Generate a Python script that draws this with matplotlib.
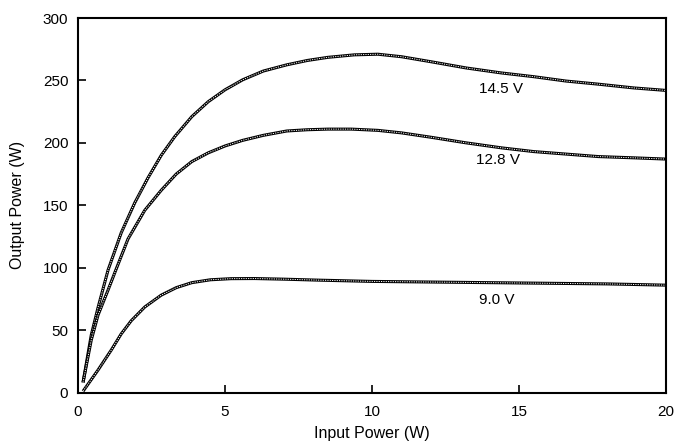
import matplotlib
matplotlib.use("Agg")
import matplotlib.pyplot as plt

plt.rcParams['font.family'] = ['Liberation Sans', 'DejaVu Sans']

x_145 = [0.17, 0.45, 0.68, 1.02, 1.47, 1.93, 2.38, 2.83, 3.29, 3.87, 4.43, 5.0, 5.6, 6.3, 7.1, 7.8, 8.5,
         9.4, 10.2, 11.0, 12.0, 13.2, 14.4, 15.5, 16.6, 17.7, 18.9, 20]
y_145 = [8, 46, 68, 98, 128, 152, 172, 190, 205, 221, 233, 242.5, 250.5, 257.5, 262.5, 266, 268.5,
         270.5, 271, 269, 265, 260, 256, 253, 249.5, 247, 244, 242]

x_128 = [0.17, 0.45, 0.68, 1.02, 1.3, 1.7, 2.27, 2.83, 3.34, 3.87, 4.43, 5.0, 5.6, 6.3, 7.1, 7.8, 8.5,
         9.3, 10.2, 11.0, 12.0, 13.2, 14.4, 15.5, 16.6, 17.7, 18.9, 20]
y_128 = [8, 42, 62, 82, 99, 123, 146, 162, 175, 185, 192, 197.5, 202, 206, 209.5, 210.5, 211,
         211, 210, 208, 204.5, 200, 196, 193, 191, 189, 188, 187]

x_90 = [0.17, 0.68, 1.13, 1.47, 1.81, 2.27, 2.83, 3.34, 3.87, 4.5, 5.2, 6.0, 7.0, 8.2, 10, 12, 14, 16, 18, 20]
y_90 = [1, 18, 34, 47, 57.5, 68.5, 78, 84, 88, 90.3, 91.2, 91.3, 90.8, 90, 89, 88.5, 88, 87.5, 87, 86]

labels = ["14.5 V", "12.8 V", "9.0 V"]
label_x = [14.4, 14.3, 14.25]
label_y = [243, 186, 74]

xticks = [0, 5, 10, 15, 20]
yticks = [0, 50, 100, 150, 200, 250, 300]

fig = plt.figure(figsize=(6.75, 4.47), dpi=100)
ax = fig.add_axes([0.1156, 0.1219, 0.8711, 0.8378])

for xs, ys in [(x_145, y_145), (x_128, y_128), (x_90, y_90)]:
    ax.plot(xs, ys, color='black', lw=2.2, solid_capstyle='butt', solid_joinstyle='round')
    ax.plot(xs, ys, color='white', lw=0.7, linestyle=(0, (1.2, 1.2)))

for t, lx, ly in zip(labels, label_x, label_y):
    ax.text(lx, ly, t, ha='center', va='center', fontsize=11)

ax.set_xlim(0, 20)
ax.set_ylim(0, 300)
ax.set_xticks(xticks)
ax.set_yticks(yticks)
ax.tick_params(direction='in', length=6, width=1.2, labelsize=11, top=False, right=False)
ax.tick_params(axis='x', pad=9)
ax.tick_params(axis='y', pad=7)
for s in ax.spines.values():
    s.set_linewidth(1.5)
ax.set_xlabel("Input Power (W)", fontsize=11.5, labelpad=5)
ax.set_ylabel("Output Power (W)", fontsize=11.5, labelpad=13)

fig.savefig("out.png", dpi=100)
